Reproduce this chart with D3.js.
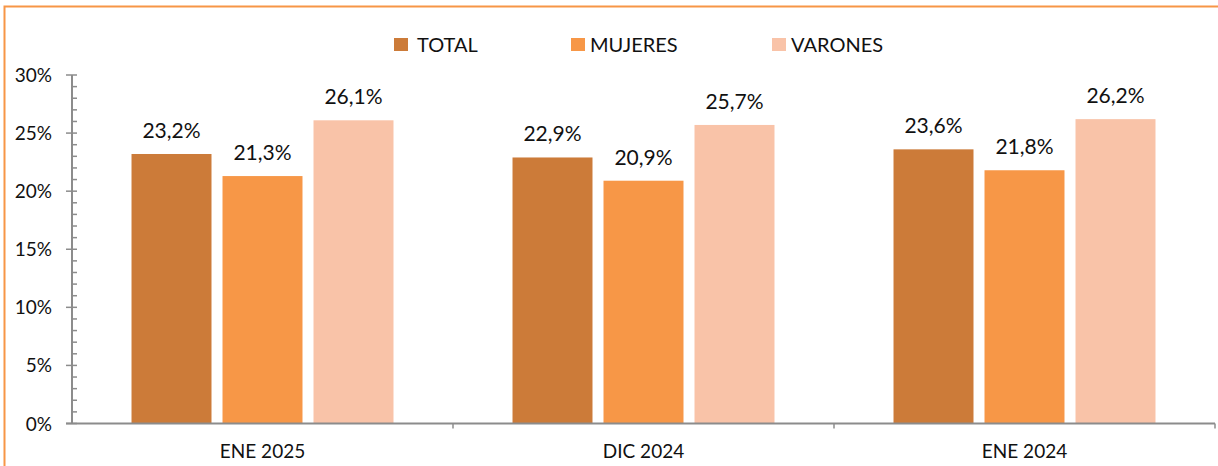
<!DOCTYPE html>
<html>
<head>
<meta charset="utf-8">
<script src="https://cdn.jsdelivr.net/npm/d3@7"></script>
<style>
  html, body { margin: 0; padding: 0; background: #fff; }
  svg { display: block; }
  text { font-family: Lato, "Open Sans", sans-serif; fill: #111; }
</style>
</head>
<body>
<svg id="chart" width="1218" height="466"></svg>
<script>
const categories = ["ENE 2025", "DIC 2024", "ENE 2024"];
const seriesNames = ["TOTAL", "MUJERES", "VARONES"];
const totalValues = [23.2, 22.9, 23.6];
const mujeresValues = [21.3, 20.9, 21.8];
const varonesValues = [26.1, 25.7, 26.2];
const yTickValues = [0, 5, 10, 15, 20, 25, 30];
const colors = ["#CC7B39", "#F79747", "#F9C3A8"];

const seriesValues = [totalValues, mujeresValues, varonesValues];
const data = categories.map((c, i) => ({
  category: c,
  values: seriesNames.map((s, j) => ({ series: s, value: seriesValues[j][i] }))
}));

const svg = d3.select("#chart");

// outer frame
svg.append("rect")
  .attr("x", 4.5).attr("y", 6.5)
  .attr("width", 1300).attr("height", 600)
  .attr("fill", "none")
  .attr("stroke", "#F79646").attr("stroke-width", 2);

const plotLeft = 72, plotRight = 1215, plotTop = 75, plotBottom = 423.5;

const x0 = d3.scaleBand().domain(categories).range([plotLeft, plotRight]).padding(0);
const x1 = d3.scaleBand().domain(seriesNames).range([0, x0.bandwidth()])
  .paddingInner(0.121).paddingOuter(0.654);
const y = d3.scaleLinear().domain([0, 30]).range([plotBottom, plotTop]);
const color = d3.scaleOrdinal().domain(seriesNames).range(colors);

// bars
const groups = svg.append("g").selectAll("g").data(data).join("g")
  .attr("transform", d => `translate(${x0(d.category)},0)`);

groups.selectAll("rect").data(d => d.values).join("rect")
  .attr("x", d => x1(d.series))
  .attr("y", d => y(d.value))
  .attr("width", x1.bandwidth())
  .attr("height", d => y(0) - y(d.value))
  .attr("fill", d => color(d.series));

groups.selectAll("text").data(d => d.values).join("text")
  .attr("x", d => x1(d.series) + x1.bandwidth() / 2)
  .attr("y", d => y(d.value) - 16)
  .attr("text-anchor", "middle")
  .style("font-size", "21px")
  .text(d => d.value.toFixed(1).replace(".", ",") + "%");

// y axis
const axisColor = "#8C8C8C";
const yAxis = svg.append("g");
yAxis.append("line")
  .attr("x1", plotLeft).attr("x2", plotLeft)
  .attr("y1", y(30)).attr("y2", y(0))
  .attr("stroke", axisColor).attr("stroke-width", 2);
const minorTicks = d3.range(0, 31, 1).filter(v => v % 5 !== 0);
yAxis.selectAll(".minor").data(minorTicks).join("line")
  .attr("x1", plotLeft).attr("x2", plotLeft + 5)
  .attr("y1", d => y(d)).attr("y2", d => y(d))
  .attr("stroke", axisColor).attr("stroke-width", 1.5);
yAxis.selectAll(".major").data(yTickValues).join("line")
  .attr("x1", plotLeft - 6).attr("x2", plotLeft + 5)
  .attr("y1", d => y(d)).attr("y2", d => y(d))
  .attr("stroke", axisColor).attr("stroke-width", 1.5);
yAxis.selectAll("text").data(yTickValues).join("text")
  .attr("x", plotLeft - 20).attr("y", d => y(d) + 7)
  .attr("text-anchor", "end")
  .style("font-size", "19px")
  .text(d => d + "%");

// x axis
const xAxis = svg.append("g");
xAxis.append("line")
  .attr("x1", plotLeft - 6).attr("x2", plotRight)
  .attr("y1", plotBottom).attr("y2", plotBottom)
  .attr("stroke", axisColor).attr("stroke-width", 2);
xAxis.selectAll(".xt").data(categories.slice(1).concat(["end"])).join("line")
  .attr("x1", (d, i) => i < categories.length - 1 ? x0(d) : plotRight)
  .attr("x2", (d, i) => i < categories.length - 1 ? x0(d) : plotRight)
  .attr("y1", plotBottom).attr("y2", plotBottom + 5)
  .attr("stroke", axisColor).attr("stroke-width", 1.5);
xAxis.selectAll("text").data(categories).join("text")
  .attr("x", d => x0(d) + x0.bandwidth() / 2)
  .attr("y", plotBottom + 34)
  .attr("text-anchor", "middle")
  .style("font-size", "19px")
  .text(d => d);

// legend
const legendBoxX = [394, 571, 772];
const legendTextX = [417, 590, 791];
const legend = svg.append("g").selectAll("g").data(seriesNames).join("g");
legend.append("rect")
  .attr("x", (d, i) => legendBoxX[i]).attr("y", 38)
  .attr("width", 14).attr("height", 13)
  .attr("fill", d => color(d));
legend.append("text")
  .attr("x", (d, i) => legendTextX[i]).attr("y", 52)
  .style("font-size", "20px")
  .text(d => d);
</script>
</body>
</html>
